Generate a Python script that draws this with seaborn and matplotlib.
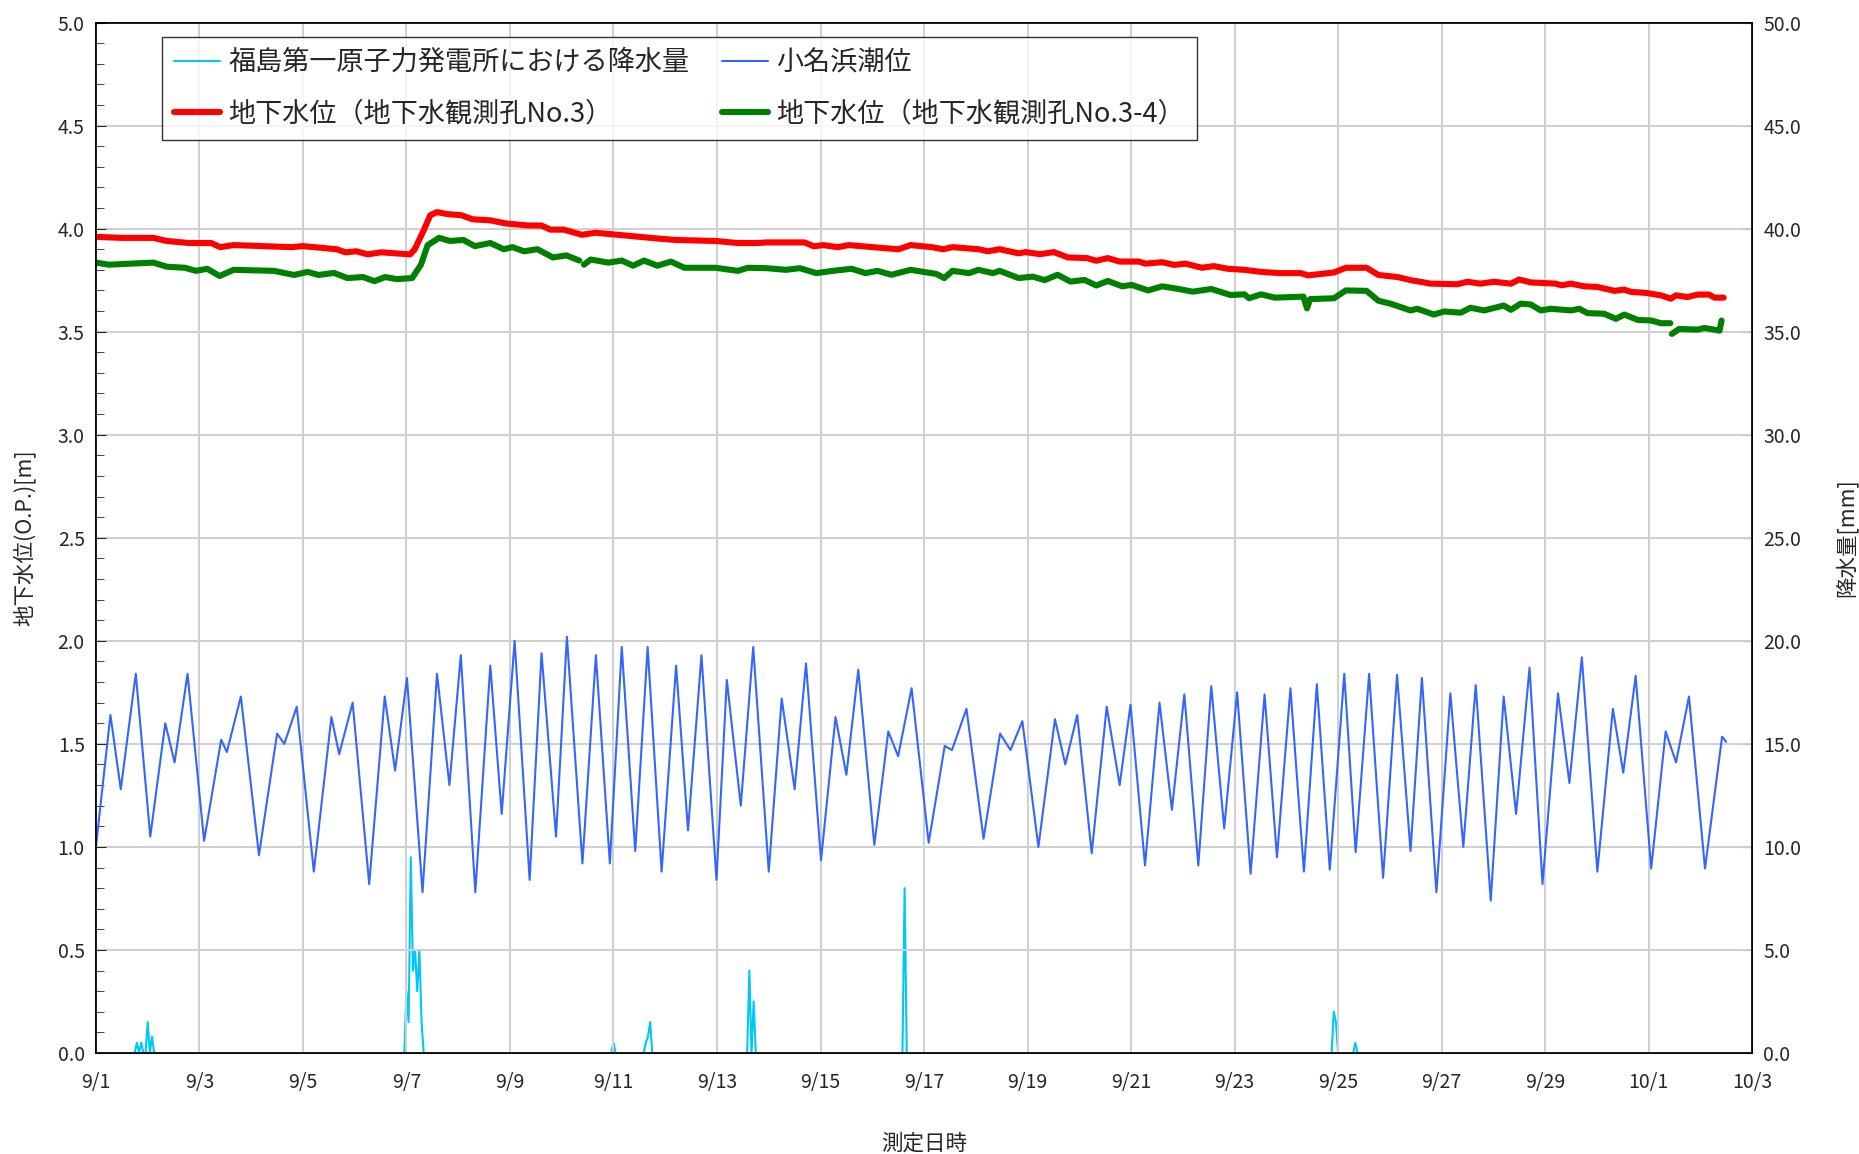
import numpy as np
import pandas as pd
import matplotlib
matplotlib.use("Agg")
import matplotlib.pyplot as plt
from matplotlib.lines import Line2D
from matplotlib.ticker import MultipleLocator
import seaborn as sns

# 1. data (days since 9/1 00:00)
x_tick_labels = ["9/1", "9/3", "9/5", "9/7", "9/9", "9/11", "9/13", "9/15", "9/17",
                 "9/19", "9/21", "9/23", "9/25", "9/27", "9/29", "10/1", "10/3"]

# 小名浜潮位: turning points [m]
tide_day = [0.00, 0.28, 0.48, 0.77, 1.05, 1.34, 1.52, 1.77, 2.09, 2.42, 2.53, 2.80,
            3.15, 3.50, 3.64, 3.88, 4.21, 4.55, 4.70, 4.96, 5.28, 5.58, 5.78, 6.01,
            6.31, 6.59, 6.83, 7.05, 7.33, 7.62, 7.84, 8.09, 8.38, 8.61, 8.89, 9.10,
            9.40, 9.66, 9.93, 10.16, 10.42, 10.66, 10.93, 11.21, 11.44, 11.70, 11.99,
            12.19, 12.46, 12.70, 13.00, 13.25, 13.50, 13.72, 14.01, 14.29, 14.50,
            14.73, 15.04, 15.31, 15.50, 15.76, 16.09, 16.40, 16.54, 16.82, 17.15,
            17.47, 17.67, 17.90, 18.21, 18.53, 18.73, 18.96, 19.24, 19.53, 19.78,
            19.99, 20.27, 20.55, 20.79, 21.03, 21.30, 21.55, 21.80, 22.05, 22.31,
            22.58, 22.82, 23.08, 23.34, 23.59, 23.84, 24.12, 24.34, 24.60, 24.87,
            25.14, 25.40, 25.62, 25.90, 26.17, 26.42, 26.66, 26.95, 27.20, 27.44,
            27.70, 27.95, 28.25, 28.47, 28.71, 29.01, 29.31, 29.51, 29.75, 30.05,
            30.33, 30.53, 30.78, 31.09, 31.42, 31.50]
tide_m = [1.00, 1.64, 1.28, 1.84, 1.05, 1.60, 1.41, 1.84, 1.03, 1.52, 1.46, 1.73,
          0.96, 1.55, 1.50, 1.68, 0.88, 1.63, 1.45, 1.70, 0.82, 1.73, 1.37, 1.82,
          0.78, 1.84, 1.30, 1.93, 0.78, 1.88, 1.16, 2.00, 0.84, 1.94, 1.05, 2.02,
          0.92, 1.93, 0.92, 1.97, 0.98, 1.97, 0.88, 1.88, 1.08, 1.93, 0.84,
          1.81, 1.20, 1.97, 0.88, 1.72, 1.28, 1.89, 0.935, 1.63, 1.35,
          1.86, 1.01, 1.56, 1.44, 1.77, 1.02, 1.49, 1.47, 1.67, 1.04,
          1.55, 1.47, 1.61, 1.00, 1.62, 1.40, 1.64, 0.97, 1.68, 1.30,
          1.69, 0.91, 1.70, 1.18, 1.74, 0.91, 1.78, 1.09, 1.75, 0.87,
          1.74, 0.95, 1.77, 0.88, 1.79, 0.89, 1.84, 0.975, 1.84, 0.85,
          1.835, 0.98, 1.82, 0.78, 1.745, 1.00, 1.785, 0.74, 1.73, 1.16,
          1.87, 0.82, 1.745, 1.31, 1.92, 0.88, 1.67, 1.36, 1.83, 0.895,
          1.56, 1.41, 1.73, 0.895, 1.535, 1.51]

# 地下水位 No.3 [m]
no3_day = [0.00, 0.50, 1.11, 1.37, 1.80, 2.23, 2.40, 2.66, 3.78, 4.00, 4.65, 4.82,
           5.03, 5.25, 5.51, 6.07, 6.16, 6.33, 6.46, 6.59, 6.80, 7.06, 7.28, 7.62,
           7.92, 8.35, 8.61, 8.78, 9.04, 9.39, 9.65, 10.08, 10.51, 10.94, 11.20,
           11.97, 12.40, 12.79, 12.96, 13.69, 13.87, 14.05, 14.33, 14.55, 15.24,
           15.51, 15.74, 16.15, 16.37, 16.55, 17.05, 17.24, 17.46, 17.83, 17.96,
           18.24, 18.51, 18.78, 19.15, 19.33, 19.55, 19.78, 20.15, 20.28, 20.60,
           20.83, 21.05, 21.37, 21.60, 21.87, 22.19, 22.51, 22.87, 23.28, 23.42,
           23.92, 24.15, 24.55, 24.78, 25.15, 25.40, 25.79, 26.30, 26.50, 26.75,
           27.01, 27.34, 27.50, 27.72, 28.20, 28.32, 28.50, 28.75, 29.01, 29.34,
           29.53, 29.66, 29.95, 30.24, 30.43, 30.53, 30.75, 30.95, 31.17, 31.27,
           31.45]
no3_m = [3.96, 3.955, 3.955, 3.94, 3.93, 3.93, 3.91, 3.92, 3.91, 3.915, 3.90, 3.885,
         3.89, 3.875, 3.885, 3.875, 3.90, 3.99, 4.065, 4.08, 4.07, 4.065, 4.045, 4.04,
         4.025, 4.015, 4.015, 3.995, 3.995, 3.97, 3.98, 3.97, 3.96, 3.95, 3.945,
         3.94, 3.93, 3.93, 3.933, 3.933, 3.914, 3.92, 3.91, 3.92, 3.905,
         3.90, 3.92, 3.91, 3.90, 3.91, 3.90, 3.89, 3.90, 3.88, 3.886,
         3.876, 3.886, 3.86, 3.857, 3.844, 3.857, 3.84, 3.84, 3.83, 3.837,
         3.824, 3.83, 3.81, 3.818, 3.805, 3.80, 3.79, 3.784, 3.784, 3.773,
         3.787, 3.81, 3.81, 3.775, 3.765, 3.75, 3.733, 3.73, 3.742, 3.733,
         3.742, 3.733, 3.753, 3.739, 3.733, 3.725, 3.733, 3.72, 3.717, 3.698,
         3.704, 3.693, 3.688, 3.676, 3.66, 3.676, 3.668, 3.68, 3.68, 3.665,
         3.665]

# 地下水位 No.3-4 [m]; the record breaks at no34_breaks
no34_day = [0.00, 0.25, 1.11, 1.37, 1.72, 1.93, 2.15, 2.39, 2.66, 3.44, 3.83, 4.09,
            4.30, 4.60, 4.86, 5.16, 5.38, 5.59, 5.81, 6.11, 6.28, 6.41, 6.63, 6.84,
            7.10, 7.32, 7.62, 7.88, 8.05, 8.27, 8.53, 8.83, 9.09, 9.34,
            9.43, 9.56, 9.90, 10.16, 10.38, 10.59, 10.85, 11.11, 11.37, 11.97, 12.40,
            12.60, 12.96, 13.33, 13.60, 13.92, 14.24, 14.60, 14.87, 15.10, 15.37,
            15.74, 16.24, 16.39, 16.55, 16.87, 17.05, 17.33, 17.46, 17.83, 18.10,
            18.33, 18.58, 18.83, 19.10, 19.33, 19.55, 19.83, 20.01, 20.33, 20.60,
            20.92, 21.19, 21.55, 21.92, 22.19, 22.28, 22.51, 22.78, 23.33, 23.40,
            23.46, 23.92, 24.15, 24.55, 24.78, 25.01, 25.40, 25.53, 25.85, 26.05,
            26.37, 26.56, 26.82, 27.08, 27.20, 27.34, 27.53, 27.72, 27.92, 28.11,
            28.50, 28.66, 28.82, 29.14, 29.37, 29.53, 29.79, 30.05, 30.24, 30.42,
            30.45, 30.59, 30.95, 31.08, 31.37, 31.41]
no34_m = [3.835, 3.825, 3.835, 3.815, 3.81, 3.795, 3.805, 3.77, 3.80, 3.795, 3.775, 3.79,
          3.775, 3.785, 3.76, 3.765, 3.745, 3.765, 3.755, 3.76, 3.825, 3.92, 3.955, 3.94,
          3.945, 3.915, 3.93, 3.90, 3.91, 3.89, 3.90, 3.86, 3.87, 3.845,
          3.825, 3.85, 3.835, 3.845, 3.82, 3.845, 3.82, 3.84, 3.81, 3.81, 3.795,
          3.81, 3.808, 3.80, 3.808, 3.784, 3.795, 3.805, 3.784, 3.795, 3.776,
          3.80, 3.78, 3.76, 3.795, 3.784, 3.80, 3.784, 3.795, 3.76, 3.767,
          3.75, 3.776, 3.743, 3.751, 3.724, 3.746, 3.72, 3.727, 3.70, 3.72,
          3.707, 3.694, 3.707, 3.678, 3.681, 3.662, 3.681, 3.665, 3.67, 3.613,
          3.658, 3.662, 3.70, 3.698, 3.65, 3.636, 3.603, 3.611, 3.583, 3.598,
          3.592, 3.616, 3.603, 3.619, 3.627, 3.606, 3.636, 3.632, 3.603, 3.611,
          3.603, 3.611, 3.59, 3.587, 3.562, 3.583, 3.557, 3.554, 3.541, 3.541,
          3.489, 3.513, 3.51, 3.518, 3.505, 3.554]
no34_breaks = [9.38, 30.435]

# 福島第一原子力発電所における降水量: hourly, hours with rain [mm]
rain_hour = [19, 21, 24, 26, 144, 145, 146, 147, 148, 149, 150, 151,
             240, 255, 256, 257, 303, 305, 375, 574, 575, 584]
rain_mm = [0.5, 0.5, 1.5, 0.8, 3.0, 1.5, 9.5, 4.0, 5.0, 3.0, 5.0, 1.5,
           0.5, 0.5, 0.8, 1.5, 4.0, 2.5, 8.0, 2.0, 1.5, 0.5]

# 2. frames
hours = np.arange(0, 31 * 24 + 13)
rain = np.zeros(len(hours))
rain[rain_hour] = rain_mm
df_rain = pd.DataFrame({"day": hours / 24.0, "mm": rain})
df_tide = pd.DataFrame({"day": tide_day, "m": tide_m})
df_no3 = pd.DataFrame({"day": no3_day, "m": no3_m})
df_no34 = pd.DataFrame({"day": no34_day, "m": no34_m})
df_no34["seg"] = np.searchsorted(no34_breaks, df_no34["day"])

# 3. plot
sns.set_style("ticks")
plt.rcParams["font.family"] = ["Noto Sans CJK JP", "DejaVu Sans"]

c_rain, c_tide, c_no3, c_no34 = "#00c8f5", "#3366ff", "#ff0000", "#008000"

fig = plt.figure(figsize=(18.59, 11.54), dpi=100)
ax = fig.add_axes([0.0516, 0.0875, 0.8909, 0.893])
ax2 = ax.twinx()

sns.lineplot(data=df_tide, x="day", y="m", ax=ax, color=c_tide, linewidth=1.5, sort=False)
sns.lineplot(data=df_no3, x="day", y="m", ax=ax, color=c_no3, linewidth=4.4, sort=False)
sns.lineplot(data=df_no34, x="day", y="m", units="seg", estimator=None, ax=ax,
             color=c_no34, linewidth=4.4, sort=False)
sns.lineplot(data=df_rain, x="day", y="mm", ax=ax2, color=c_rain, linewidth=1.5, sort=False)

ax.set_zorder(ax2.get_zorder() + 1)
ax.patch.set_visible(False)

ax.set_xlim(0, 32)
ax.set_ylim(0, 5)
ax2.set_ylim(0, 50)
ax.set_xticks(np.arange(0, 33, 2))
ax.set_xticklabels(x_tick_labels)
ax.yaxis.set_major_locator(MultipleLocator(0.5))
ax.yaxis.set_minor_locator(MultipleLocator(0.1))
ax.yaxis.set_major_formatter(plt.FormatStrFormatter("%.1f"))
ax2.yaxis.set_major_locator(MultipleLocator(5))
ax2.yaxis.set_major_formatter(plt.FormatStrFormatter("%.1f"))

ax.grid(True, which="major", color="#cfcfcf", linewidth=1.4)
ax.set_axisbelow(True)
ax.tick_params(axis="both", which="major", direction="in", length=7, labelsize=14, pad=8)
ax.tick_params(axis="y", which="minor", direction="in", length=6)
ax.tick_params(axis="x", length=0, pad=14)
ax2.tick_params(axis="y", direction="in", length=7, labelsize=14, pad=8)

for a in (ax, ax2):
    for s in a.spines.values():
        s.set_color("black")
        s.set_linewidth(1.2)

ax.set_xlabel("測定日時", fontsize=15.5, labelpad=28)
ax.set_ylabel("地下水位(O.P.)[m]", fontsize=15.5, labelpad=16)
ax2.set_ylabel("降水量[mm]", fontsize=15.5, labelpad=24, rotation=90)

handles = [Line2D([], [], color=c_rain, linewidth=1.5),
           Line2D([], [], color=c_no3, linewidth=4.4),
           Line2D([], [], color=c_tide, linewidth=1.5),
           Line2D([], [], color=c_no34, linewidth=4.4)]
labels = ["福島第一原子力発電所における降水量", "地下水位（地下水観測孔No.3）",
          "小名浜潮位", "地下水位（地下水観測孔No.3-4）"]
leg = ax.legend(handles, labels, ncol=2, loc="upper left", bbox_to_anchor=(0.040, 0.986),
                borderaxespad=0.0, fontsize=19.5, frameon=True, fancybox=False,
                edgecolor="black", handlelength=1.7, handletextpad=0.3,
                columnspacing=1.2, borderpad=0.45, labelspacing=0.9)
leg.get_frame().set_linewidth(1.0)

fig.savefig("out.png", dpi=100)
